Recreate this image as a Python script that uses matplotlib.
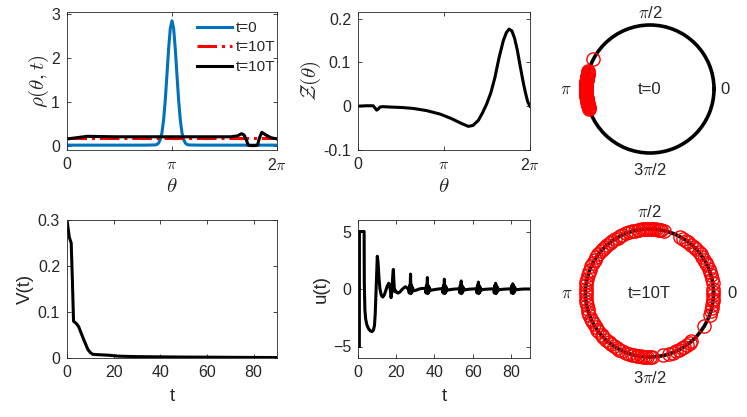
import numpy as np
import matplotlib
matplotlib.use('Agg')
import matplotlib.pyplot as plt

plt.rcParams['font.family'] = ['Liberation Sans', 'DejaVu Sans']
plt.rcParams['mathtext.fontset'] = 'cm'

PI = np.pi
# ---------------- data ----------------
# panel 1: density rho(theta,t)
theta_init = [0.0, 2.3, 2.64, 2.69, 2.74, 2.79, 2.84, 2.89, 2.94, 2.99, 3.04, 3.09, 3.1416,
              3.19, 3.24, 3.29, 3.34, 3.39, 3.44, 3.49, 3.54, 3.59, 3.64, 4.0, 6.2832]
rho_init = [0.03, 0.03, 0.035, 0.046, 0.078, 0.154, 0.31, 0.60, 1.05, 1.62, 2.215, 2.675, 2.85,
            2.675, 2.215, 1.62, 1.05, 0.60, 0.31, 0.154, 0.078, 0.046, 0.035, 0.03, 0.03]
theta_unif = [0.0, 6.2832]
rho_unif = [0.2, 0.2]
theta_final = [0.0, 0.3, 0.6, 1.0, 1.5, 2.0, 2.5, 3.0, 3.5, 4.0, 4.5, 4.9, 5.1, 5.22, 5.3,
               5.38, 5.42, 5.5, 5.62, 5.7, 5.76, 5.83, 5.95, 6.1, 6.2832]
rho_final = [0.17, 0.2, 0.23, 0.225, 0.22, 0.22, 0.22, 0.22, 0.22, 0.22, 0.22, 0.22, 0.24, 0.29, 0.26,
             0.12, 0.03, 0.02, 0.02, 0.03, 0.2, 0.32, 0.26, 0.2, 0.17]

# panel 2: phase response Z(theta)
theta_Z = [0.0, 0.3, 0.55, 0.62, 0.68, 0.75, 0.8, 0.9, 1.2, 1.6, 2.0, 2.5, 3.0, 3.4, 3.8, 4.03,
           4.2, 4.4, 4.55, 4.7, 4.85, 5.0, 5.15, 5.31, 5.42, 5.52, 5.62, 5.72, 5.82, 5.92, 6.04,
           6.12, 6.2, 6.2832]
Z_vals = [0.0, 0.001, 0.001, -0.004, -0.009, -0.006, -0.002, -0.001, -0.002, -0.003, -0.005, -0.01,
          -0.018, -0.028, -0.04, -0.046, -0.044, -0.032, -0.015, 0.005, 0.03, 0.065, 0.11, 0.15,
          0.168, 0.176, 0.172, 0.155, 0.128, 0.093, 0.053, 0.03, 0.01, 0.0]

# panel 4: V(t)
t_V = [0, 1, 1.8, 2.3, 2.8, 4, 5, 6, 7, 8, 9, 10, 11, 14, 18, 22, 30, 40, 50, 60, 70, 80, 90]
V_vals = [0.3, 0.262, 0.25, 0.17, 0.08, 0.075, 0.068, 0.055, 0.042, 0.03, 0.018, 0.012, 0.008,
          0.007, 0.006, 0.004, 0.003, 0.0025, 0.002, 0.0018, 0.0015, 0.0012, 0.001]

# panel 5: control u(t)
t_u = [0.7, 0.75, 3.2, 3.3, 3.6, 4.0, 4.6, 5.5, 6.5, 7.3, 8.0, 8.6, 9.0, 9.4, 9.8, 10.1, 10.5, 11.0,
       11.5, 12.2, 13.0, 13.8, 14.6, 15.4, 16.1, 16.6, 17.0, 17.3, 17.6, 17.9, 18.2, 18.5, 18.8, 19.1,
       19.5, 20.2, 21.0, 22.0, 23.0, 24.0, 24.8, 25.6, 26.2,
       26.5, 26.8, 27.0, 27.2, 27.5, 27.7, 27.9, 28.2, 28.5, 28.9, 29.5, 30.5, 32.0, 33.5, 35.0,
       35.3, 35.6, 35.8, 36.0, 36.3, 36.5, 36.7, 37.0, 37.3, 37.7, 38.5, 40.0, 42.0, 44.0,
       44.2, 44.5, 44.7, 44.9, 45.2, 45.4, 45.6, 45.9, 46.2, 46.6, 47.5, 49.0, 51.0, 53.0,
       53.3, 53.5, 53.7, 54.0, 54.2, 54.4, 54.7, 55.0, 55.4, 56.3, 58.0, 60.0, 62.0,
       62.3, 62.5, 62.7, 63.0, 63.2, 63.4, 63.7, 64.0, 64.4, 65.3, 67.0, 69.0, 71.0,
       71.3, 71.5, 71.7, 72.0, 72.2, 72.4, 72.7, 73.0, 73.4, 74.3, 76.0, 78.0, 80.0,
       80.3, 80.5, 80.7, 81.0, 81.2, 81.4, 81.7, 82.0, 82.4, 83.3, 85.0, 87.0, 90.0]
u_vals = [-5, 5, 5, 0.5, -1.8, -2.6, -3.1, -3.45, -3.65, -3.7, -3.6, -3.2, -2.2, -0.3, 1.8, 2.85, 2.3, 0.9,
          0.0, -0.55, -0.7, -0.5, -0.1, 0.3, 0.5, 0.3, -0.2, -0.75, -0.4, 0.4, 1.2, 1.7, 0.6, -0.2,
          -0.1, -0.3, -0.35, -0.25, -0.05, 0.1, 0.2, 0.1, 0.0,
          0.05, -0.35, 0.3, -0.3, 1.3, -0.4, 0.35, -0.3, 0.15, -0.1, -0.15, -0.1, 0.0, 0.05, 0.05,
          0.05, -0.35, 0.3, -0.3, 1.0, -0.4, 0.3, -0.3, 0.15, -0.1, -0.1, -0.05, 0.0, 0.03,
          0.03, -0.35, 0.3, -0.3, 0.85, -0.4, 0.3, -0.3, 0.15, -0.1, -0.08, -0.03, 0.0, 0.02,
          -0.35, 0.3, -0.3, 0.7, -0.4, 0.3, -0.3, 0.15, -0.1, -0.06, -0.02, 0.0, 0.02,
          -0.35, 0.3, -0.3, 0.6, -0.4, 0.3, -0.3, 0.15, -0.1, -0.05, -0.02, 0.0, 0.02,
          -0.35, 0.3, -0.3, 0.5, -0.4, 0.3, -0.3, 0.15, -0.1, -0.05, -0.02, 0.0, 0.02,
          -0.35, 0.3, -0.3, 0.45, -0.4, 0.3, -0.3, 0.15, -0.1, -0.05, -0.02, 0.0, 0.0]

# panels 3 and 6: oscillator phases (degrees) on unit circle
phases_t0 = [152, 164, 164.7, 165.4, 166, 166.8, 167.5, 168.1, 168.9, 169.6, 170.2, 171, 171.7, 172.3,
             173.1, 173.8, 174.5, 175.2, 175.9, 176.6, 177.3, 178, 178.7, 179.4, 180.1, 180.8, 181.5,
             182.2, 182.9, 183.6, 184.3, 185, 185.7, 186.4, 187.1, 187.8, 188.5, 189.2, 189.9, 190.6,
             191.3, 192, 192.7, 193.4, 194.1, 194.8, 195.5, 196.2, 196.9, 198.5]
phases_10T = [77, 79.5, 81, 82.5, 84.5, 86, 88, 89.5, 91, 93, 94.5, 97, 99, 100.5, 103, 105.5,
              109, 111.5, 115, 117.5, 120, 123, 125.5, 128, 131.5, 134, 137, 139.5, 143, 146, 148.5,
              152, 155, 158.5, 161, 164, 167.5, 170, 173, 176.5, 179, 182, 185.5, 188, 191, 194.5,
              197, 200, 203.5, 206, 209, 212.5, 215, 218, 221.5, 224, 227, 230.5, 233, 236, 239.5,
              242, 245, 248.5, 251, 254, 256, 258.5, 260, 262, 264.5, 266, 268, 270, 272,
              282.5, 288, 291.5, 294, 297, 300.5, 303, 306, 309, 311, 329,
              340, 343.5, 346, 349, 352.5, 355, 358, 1, 4,
              9, 13, 16.5, 19, 22, 25.5, 28, 31, 34.5, 37, 40, 43.5, 46, 49, 52.5, 55, 58, 61.5]

xticks_theta = [0, PI, 2 * PI]
xticklabels_theta = ['0', r'$\pi$', r'2$\pi$']

# ---------------- figure ----------------
W, H = 747, 417
fig = plt.figure(figsize=(W / 100, H / 100), dpi=100)
TXT = '#262626'
BLUE = '#0072BD'
LW = 2.2
FS = 11.5


def box(x0, x1, y0, y1):
    return [x0 / W, (H - y1) / H, (x1 - x0) / W, (y1 - y0) / H]


def style(ax):
    ax.tick_params(direction='in', top=True, right=True, length=3, width=0.6,
                   labelsize=FS, colors=TXT, pad=5)
    for s in ax.spines.values():
        s.set_color(TXT)
        s.set_linewidth(0.6)


ax1 = fig.add_axes(box(67, 277, 12, 150))
ax1.plot(theta_init, rho_init, color=BLUE, lw=LW, label='t=0')
ax1.plot(theta_unif, rho_unif, 'r-.', lw=LW, label='t=10T')
ax1.plot(theta_final, rho_final, 'k-', lw=LW, label='t=10T')
ax1.set_xlim(0, 2 * PI)
ax1.set_ylim(-0.08, 3.05)
ax1.set_yticks([0, 1, 2, 3])
ax1.set_xticks(xticks_theta)
ax1.set_xticklabels(xticklabels_theta)
ax1.set_xlabel(r'$\theta$', fontsize=15, color=TXT, labelpad=3)
ax1.set_ylabel(r'$\rho(\theta,t)$', fontsize=15, color=TXT, labelpad=0)
style(ax1)
leg = ax1.legend(loc='upper left', bbox_to_anchor=((197 - 67) / 210, 1 - 9 / 138),
                 frameon=False, fontsize=11, handlelength=2.3, handleheight=0.6,
                 handletextpad=0.25, labelspacing=0.35, borderaxespad=0.0, borderpad=0.0)
for t in leg.get_texts():
    t.set_color(TXT)

ax2 = fig.add_axes(box(358, 530, 12, 150))
ax2.plot(theta_Z, Z_vals, 'k-', lw=LW)
ax2.set_xlim(0, 2 * PI)
ax2.set_ylim(-0.1, 0.215)
ax2.set_yticks([-0.1, 0, 0.1, 0.2])
ax2.set_yticklabels(['-0.1', '0', '0.1', '0.2'])
ax2.set_xticks(xticks_theta)
ax2.set_xticklabels(xticklabels_theta)
ax2.set_xlabel(r'$\theta$', fontsize=15, color=TXT, labelpad=3)
ax2.set_ylabel(r'$\mathcal{Z}(\theta)$', fontsize=15, color=TXT, labelpad=0)
style(ax2)

ax4 = fig.add_axes(box(67, 277, 220, 358))
ax4.plot(t_V, V_vals, 'k-', lw=LW)
ax4.set_xlim(0, 90)
ax4.set_ylim(0, 0.3)
ax4.set_xticks([0, 20, 40, 60, 80])
ax4.set_yticks([0, 0.1, 0.2, 0.3])
ax4.set_yticklabels(['0', '0.1', '0.2', '0.3'])
ax4.set_xlabel('t', fontsize=13.5, color=TXT, labelpad=6)
ax4.set_ylabel('V(t)', fontsize=13.5, color=TXT, labelpad=3)
style(ax4)

ax5 = fig.add_axes(box(358, 530, 220, 358))
ax5.plot(t_u, u_vals, 'k-', lw=LW)
ax5.set_xlim(0, 90)
ax5.set_ylim(-6, 6)
ax5.set_xticks([0, 20, 40, 60, 80])
ax5.set_yticks([-5, 0, 5])
ax5.set_xlabel('t', fontsize=13.5, color=TXT, labelpad=6)
ax5.set_ylabel('u(t)', fontsize=13.5, color=TXT, labelpad=2)
style(ax5)


def circle_panel(rect, phases, label, rpos):
    ax = fig.add_axes(rect, projection='polar')
    ax.set_ylim(0, 1)
    ax.set_xticks([])
    ax.set_yticks([])
    ax.grid(False)
    ax.spines['polar'].set_linewidth(2.6)
    ax.spines['polar'].set_color('black')
    ang = np.deg2rad(phases)
    ax.plot(ang, np.ones(len(ang)), 'o', mfc='none', mec='red', ms=9.5, mew=1.0,
            clip_on=False, zorder=3)
    ax.text(0, 0, label, ha='center', va='center', fontsize=12, color=TXT)
    r0, r90, r180, r270 = rpos
    ax.text(0, r0, '0', ha='center', va='center', fontsize=12, color=TXT)
    ax.text(PI / 2, r90, r'$\pi$/2', ha='center', va='center', fontsize=12, color=TXT)
    ax.text(PI, r180, r'$\pi$', ha='center', va='center', fontsize=12, color=TXT)
    ax.text(3 * PI / 2, r270, r'3$\pi$/2', ha='center', va='center', fontsize=12, color=TXT)
    return ax


circle_panel(box(586, 714, 25, 153), phases_t0, 't=0', (1.17, 1.18, 1.31, 1.27))
circle_panel(box(585.5, 713.5, 229, 357), phases_10T, 't=10T', (1.29, 1.27, 1.29, 1.33))

fig.savefig('out.png', dpi=100)
